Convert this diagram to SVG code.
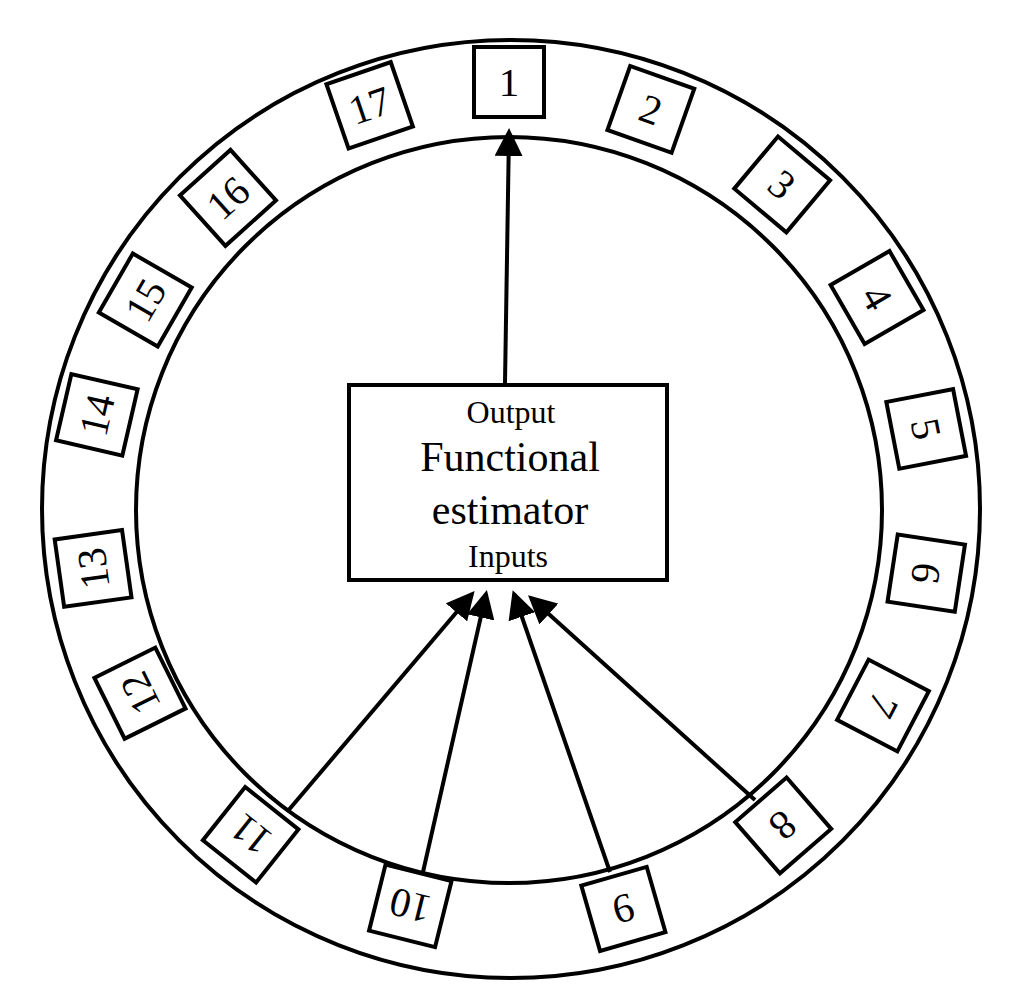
<svg xmlns="http://www.w3.org/2000/svg" width="1011" height="1005" viewBox="0 0 1011 1005">
<style>
.c{fill:none;stroke:#000;stroke-width:4}
.b rect{fill:#fff;stroke:#000;stroke-width:4}
.b text{font-family:"Liberation Serif",serif;font-size:41px;text-anchor:middle}
.t{font-family:"Liberation Serif",serif;text-anchor:middle}
.a{stroke:#000;stroke-width:4;marker-end:url(#m)}
</style>
<defs><marker id="m" markerWidth="7" markerHeight="7" refX="6" refY="3.5" orient="auto" markerUnits="strokeWidth"><path d="M0,0L7,3.5L0,7z"/></marker></defs>
<rect width="1011" height="1005" fill="#fff"/>
<circle class="c" cx="511" cy="509" r="469"/>
<circle class="c" cx="509" cy="510" r="373"/>
<g id="boxes" class="b">
<g id="n1" transform="translate(509,510) rotate(0) translate(0,-428)"><rect x="-35" y="-35" width="70" height="70"/><text y="14">1</text></g>
<g id="n2" transform="translate(509,510) rotate(19.5) translate(0,-425)"><rect x="-34" y="-34" width="68" height="68"/><text y="14">2</text></g>
<g id="n3" transform="translate(509,510) rotate(40) translate(0,-425)"><rect x="-34" y="-34" width="68" height="68"/><text y="14">3</text></g>
<g id="n4" transform="translate(509,510) rotate(60) translate(0,-425)"><rect x="-34" y="-34" width="68" height="68"/><text y="14">4</text></g>
<g id="n5" transform="translate(509,510) rotate(79) translate(0,-425)"><rect x="-34" y="-34" width="68" height="68"/><text y="14">5</text></g>
<g id="n6" transform="translate(509,510) rotate(98.6) translate(0,-422)"><rect x="-34" y="-34" width="68" height="68"/><text y="14">6</text></g>
<g id="n7" transform="translate(509,510) rotate(117.6) translate(0,-422)"><rect x="-34" y="-34" width="68" height="68"/><text y="14">7</text></g>
<g id="n8" transform="translate(509,510) rotate(139) translate(0,-418)"><rect x="-34" y="-34" width="68" height="68"/><text y="14">8</text></g>
<g id="n9" transform="translate(509,510) rotate(164) translate(0,-415)"><rect x="-34" y="-34" width="68" height="68"/><text y="14">9</text></g>
<g id="n10" transform="translate(509,510) rotate(194) translate(0,-408)"><rect x="-34" y="-34" width="68" height="68"/><text y="14">10</text></g>
<g id="n11" transform="translate(509,510) rotate(218.5) translate(0,-415)"><rect x="-34" y="-34" width="68" height="68"/><text y="14">11</text></g>
<g id="n12" transform="translate(509,510) rotate(243.6) translate(0,-412)"><rect x="-34" y="-34" width="68" height="68"/><text y="14">12</text></g>
<g id="n13" transform="translate(509,510) rotate(262) translate(0,-420)"><rect x="-34" y="-34" width="68" height="68"/><text y="14">13</text></g>
<g id="n14" transform="translate(509,510) rotate(283) translate(0,-423)"><rect x="-34" y="-34" width="68" height="68"/><text y="14">14</text></g>
<g id="n15" transform="translate(509,510) rotate(300) translate(0,-420)"><rect x="-34" y="-34" width="68" height="68"/><text y="14">15</text></g>
<g id="n16" transform="translate(509,510) rotate(318) translate(0,-420)"><rect x="-34" y="-34" width="68" height="68"/><text y="14">16</text></g>
<g id="n17" transform="translate(509,510) rotate(341) translate(0,-428)"><rect x="-34" y="-34" width="68" height="68"/><text y="14">17</text></g>
</g>
<g id="estimator">
<rect x="349" y="385" width="318" height="195" fill="#fff" stroke="#000" stroke-width="4"/>
<text class="t" x="511" y="423" font-size="32">Output</text>
<text class="t" x="510" y="471" font-size="42">Functional</text>
<text class="t" x="510" y="524" font-size="42">estimator</text>
<text class="t" x="508" y="567" font-size="32">Inputs</text>
</g>
<g id="connectors">
<line class="a" x1="505" y1="383" x2="509" y2="132"/>
<line class="a" x1="287" y1="812" x2="472" y2="594"/>
<line class="a" x1="423" y1="872" x2="486" y2="594"/>
<line class="a" x1="610" y1="872" x2="514" y2="594"/>
<line class="a" x1="755" y1="800" x2="531" y2="598"/>
</g>
</svg>
